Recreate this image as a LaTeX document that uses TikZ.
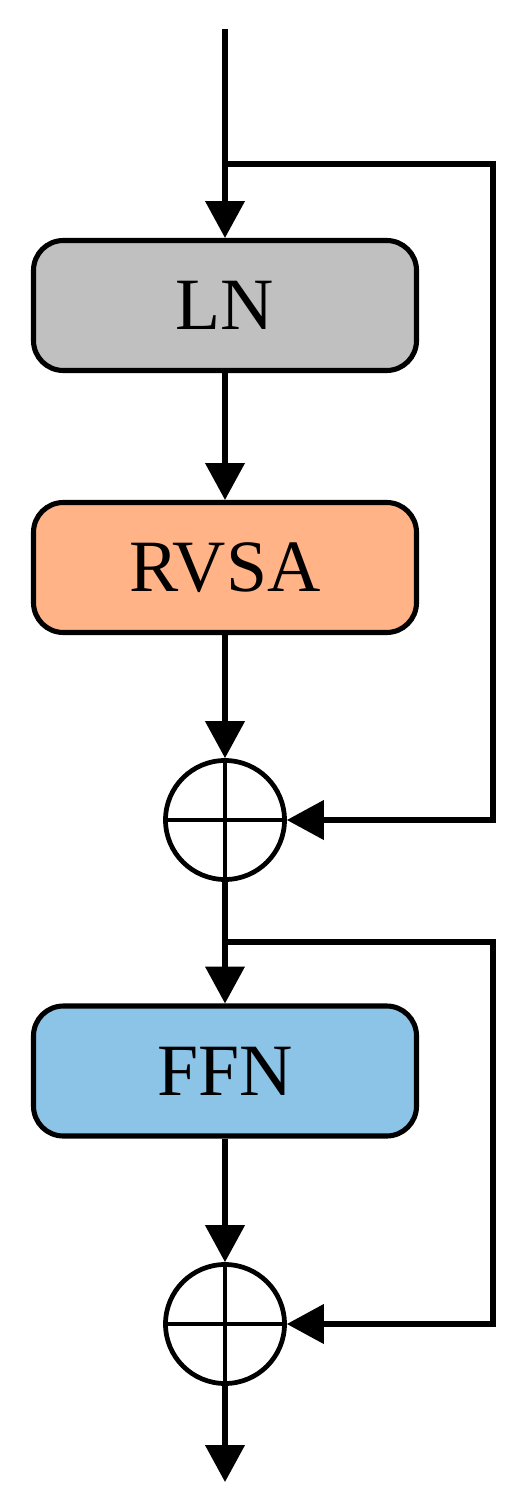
\documentclass[tikz,border=0pt]{standalone}
\usepackage{fontspec}
\setmainfont{Liberation Serif}
\usetikzlibrary{arrows.meta}

\definecolor{lngrau}{HTML}{C0C0C0}
\definecolor{rvsaorange}{HTML}{FFB386}
\definecolor{ffnblau}{HTML}{8CC4E7}

\tikzset{
	block/.style={draw, line width=2.9pt, rounded corners=17pt, minimum width=383*0.02cm, minimum height=130*0.02cm, font=\fontsize{42}{48}\selectfont},
	summe/.style={draw, line width=2.7pt, circle, minimum size=119*0.02cm, inner sep=0pt},
	pfeil/.style={line width=2.9pt, -{Triangle[length=21pt, width=22pt]}},
	linie/.style={line width=2.7pt}
}

\begin{document}
\begin{tikzpicture}[x=0.02cm, y=-0.02cm]
			\useasboundingbox (0,0) rectangle (520,1510);
			
			% Bloecke
			\node[block, fill=lngrau] (ln) at (225,305.5) {LN};
			\node[block, fill=rvsaorange] (rvsa) at (225,567.5) {RVSA};
			\node[block, fill=ffnblau] (ffn) at (225,1071) {FFN};
			
			% Additionen
			\node[summe] (add1) at (225,820) {};
			\node[summe] (add2) at (225,1324) {};
			\draw[linie] (add1.north) -- (add1.south) (add1.west) -- (add1.east);
			\draw[linie] (add2.north) -- (add2.south) (add2.west) -- (add2.east);
			
			% Hilfspunkte
			\coordinate (eingang) at (225,29);
			\coordinate (abzweig1) at (225,164);
			\coordinate (ecke1) at (493,164);
			\coordinate (abzweig2) at (225,942);
			\coordinate (ecke2) at (493,942);
			\coordinate (ausgang) at (225,1482);
			
			% Hauptpfad
			\draw[pfeil] (eingang) -- (ln);
			\draw[pfeil] (ln) -- (rvsa);
			\draw[pfeil] (rvsa) -- (add1);
			\draw[pfeil] (add1) -- (ffn);
			\draw[pfeil] (ffn) -- (add2);
			\draw[pfeil] (add2) -- (ausgang);
			
			% Restverbindungen
			\draw[pfeil] (abzweig1) -- (ecke1) |- (add1);
			\draw[pfeil] (abzweig2) -- (ecke2) |- (add2);
		\end{tikzpicture}
\end{document}
